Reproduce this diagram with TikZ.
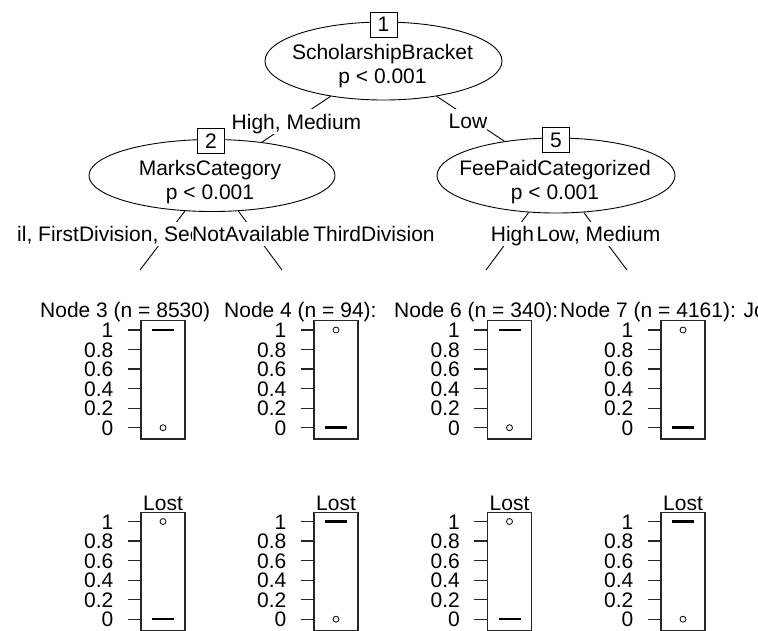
\documentclass[tikz,border=0pt]{standalone}
\usepackage{fontspec}
\setmainfont{Liberation Sans}
\usetikzlibrary{shapes.geometric}

\begin{document}
\begin{tikzpicture}[x=1pt,y=-1pt,
  every node/.style={font=\fontsize{21}{24}\selectfont, inner sep=0pt},
  splitnode/.style={ellipse, draw=black, fill=white, line width=0.9pt},
  idbox/.style={draw=black, fill=white, line width=1pt, minimum width=27pt, minimum height=25pt},
  edgeline/.style={line width=0.9pt},
  edgelbl/.style={fill=white, text height=20pt, text depth=4.5pt, anchor=base},
  frame/.style={draw=black!85, line width=1.2pt},
  tickline/.style={draw=black!85, line width=1.2pt},
  ticklbl/.style={anchor=base east},
  medline/.style={line width=2.5pt, line cap=butt},
  outpoint/.style={draw=black, fill=white, line width=0.8pt}]

\useasboundingbox (0,0) rectangle (758,630);

% inner (split) nodes
\node[splitnode, minimum width=237pt, minimum height=78pt] (n1) at (383.5,61) {};
\node[splitnode, minimum width=246pt, minimum height=72pt] (n2) at (212,175.5) {};
\node[splitnode, minimum width=238pt, minimum height=75pt] (n5) at (556,175.5) {};

\node[idbox] (b1) at (383.5,24.5) {1};
\node[idbox] (b2) at (211,141) {2};
\node[idbox] (b5) at (556,140) {5};

\node[anchor=base] (n1a) at (382.5,59.5) {ScholarshipBracket};
\node[anchor=base] (n1b) at (382.5,83) {p < 0.001};
\node[anchor=base] (n2a) at (210,175) {MarksCategory};
\node[anchor=base] (n2b) at (210,199) {p < 0.001};
\node[anchor=base] (n5a) at (555,175) {FeePaidCategorized};
\node[anchor=base] (n5b) at (555,199) {p < 0.001};

% free ends of the edges towards the terminal panels
\coordinate (c3) at (140,270);
\coordinate (c4) at (282,270);
\coordinate (c6) at (486,270);
\coordinate (c7) at (627,270);

% edges
\draw[edgeline] (n1) -- (n2);
\draw[edgeline] (n1) -- (n5);
\draw[edgeline] (n2) -- (c3);
\draw[edgeline] (n2) -- (c4);
\draw[edgeline] (n5) -- (c6);
\draw[edgeline] (n5) -- (c7);

% edge labels on white backgrounds
\node[edgelbl] (l12) at (296.5,129) {High, Medium};
\node[edgelbl] (l15) at (468,128.5) {Low};
\node[edgelbl, anchor=base west] (l23) at (17,241.5) {il, FirstDivision, Sec};
\node[edgelbl] (l24) at (251,241.5) {NotAvailable};
\node[edgelbl] (l24b) at (374,241.5) {ThirdDivision};
\node[edgelbl] (l56) at (512.5,241.5) {High};
\node[edgelbl] (l57) at (598.5,241.5) {Low, Medium};

% terminal node headers
\node[anchor=base west] (h3) at (40,317) {Node 3 (n = 8530)};
\node[anchor=base west] (h4) at (224,317) {Node 4 (n = 94):};
\node[anchor=base west] (h6) at (394,317) {Node 6 (n = 340):};
\node[anchor=base west] (h7) at (560,317) {Node 7 (n = 4161): Jo};

% titles of the lower panels
\foreach \cx [count=\i] in {163,336,509.5,683}
  \node[anchor=base] (lost\i) at (\cx,510) {Lost};

% boxplot panels: centre x / y of value 1 / median value / outlier value
\foreach \cx/\ya/\m/\o [count=\i] in
  {163/330/1/0, 336/330/0/1, 509.5/330/1/0, 683/330/0/1,
   163/521.5/0/1, 336/521.5/1/0, 509.5/521.5/0/1, 683/521.5/1/0} {
  \draw[frame] (\cx-22,\ya-9.3) rectangle (\cx+22,\ya+109);
  \foreach \v/\lbl in {0/1, 1/0.8, 2/0.6, 3/0.4, 4/0.2, 5/0} {
    \draw[tickline] (\cx-35.4,\ya+19.54*\v) -- (\cx-22,\ya+19.54*\v);
    \node[ticklbl] (tk\i-\v) at (\cx-49.5,\ya+19.54*\v+7.5) {\lbl};
  }
  \draw[medline] (\cx-11,\ya+97.7-97.7*\m) -- (\cx+11,\ya+97.7-97.7*\m);
  \draw[outpoint] (\cx,\ya+97.7-97.7*\o) circle (3pt);
}
\end{tikzpicture}
\end{document}
